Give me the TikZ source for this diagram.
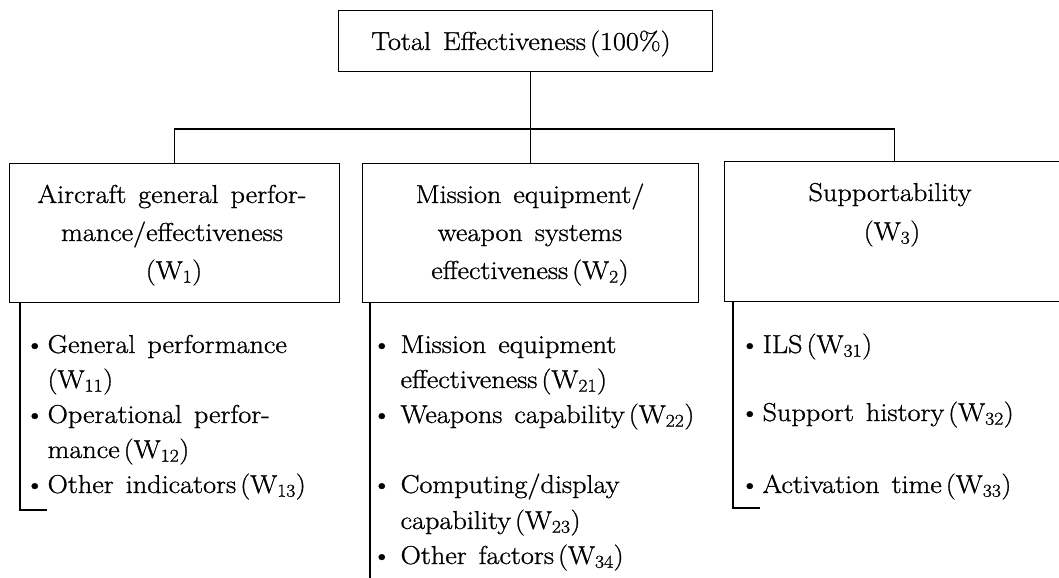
\documentclass[tikz,border=0pt]{standalone}
\usepackage{fontspec}
\setmainfont{Latin Modern Roman}[FakeStretch=1.09,WordSpace=1.4,FakeBold=1.0]
% weight label: tight gap before the parenthesis
\newcommand\Wsub[1]{\kern4bp(W\textsubscript{#1})}
\newcommand\bul[1][22]{\makebox[#1bp][l]{\textbullet}}
\begin{document}
\begin{tikzpicture}[x=1bp,y=-1bp,line width=1.2bp,
  every node/.style={font=\fontsize{26}{31}\selectfont},
  frame/.style={draw,inner sep=0pt,anchor=north west},
  head/.style={anchor=base,inner sep=0pt},
  item/.style={anchor=base west,inner sep=0pt}]
\useasboundingbox (0,0) rectangle (1059,578);
\clip (0,0) rectangle (1059,578);

% boxes
\node[frame,minimum width=374bp,minimum height=61bp] (top) at (338,10) {};
\node[frame,minimum width=330bp,minimum height=139bp] (b1) at (9,163) {};
\node[frame,minimum width=336bp,minimum height=139bp] (b2) at (362,163) {};
\node[frame,minimum width=340bp,minimum height=140bp] (b3) at (724,161) {};

% box texts
\node[head] (t0) at (521,50) {Total Effectiveness\kern4bp(100\%)};

\node[head] (h1a) at (172,203) {Aircraft general perfor-};
\node[head] (h1b) at (172,241) {mance/effectiveness};
\node[head] (h1c) at (172,279) {\Wsub{1}};

\node[head] (h2a) at (530,203) {Mission equipment/};
\node[head] (h2b) at (530,241) {weapon systems};
\node[head] (h2c) at (530,279) {effectiveness\Wsub{2}};

\node[head] (h3a) at (890,201) {Supportability};
\node[head] (h3b) at (890,240) {\Wsub{3}};

% tree connectors
\coordinate (bus) at (0,129);
\draw (top.south -| b2.north) -- (b2.north);
\draw (b1.north) -- (b1.north |- bus) -- (b3.north |- bus) -- (b3.north);

% list brackets
\coordinate (e1) at (47,510);
\coordinate (e2) at (370,590);
\coordinate (e3) at (760,508);
\draw (b1.south west) ++(11,0) coordinate (s1) -- (s1 |- e1) -- (e1);
\draw (b2.south west) ++(8,0) coordinate (s2) -- (s2 |- e2);
\draw (b3.south west) ++(9,0) coordinate (s3) -- (s3 |- e3) -- (e3);

% list of aircraft performance factors
\node[item] (i11) at (24,353) {\bul[23]General performance};
\node[item] (i11b) at (47,388) {(W\textsubscript{11})};
\node[item] (i12) at (24,423) {\bul[23]Operational perfor-};
\node[item] (i12b) at (47,458) {mance\Wsub{12}};
\node[item] (i13) at (24,493) {\bul[23]Other indicators\Wsub{13}};

% list of mission equipment factors
\node[item] (i21) at (371,353) {\bul[29]Mission equipment};
\node[item] (i21b) at (400,388) {effectiveness\Wsub{21}};
\node[item] (i22) at (371,423) {\bul[29]Weapons capability\Wsub{22}};
\node[item] (i23) at (371,493) {\bul[29]Computing/display};
\node[item] (i23b) at (400,529) {capability\Wsub{23}};
\node[item] (i24) at (371,564) {\bul[29]Other factors\Wsub{34}};

% list of supportability factors
\node[item] (i31) at (739,353) {\bul[23]ILS\Wsub{31}};
\node[item] (i32) at (739,421) {\bul[23]Support history\Wsub{32}};
\node[item] (i33) at (739,493) {\bul[23]Activation time\Wsub{33}};
\end{tikzpicture}
\end{document}
